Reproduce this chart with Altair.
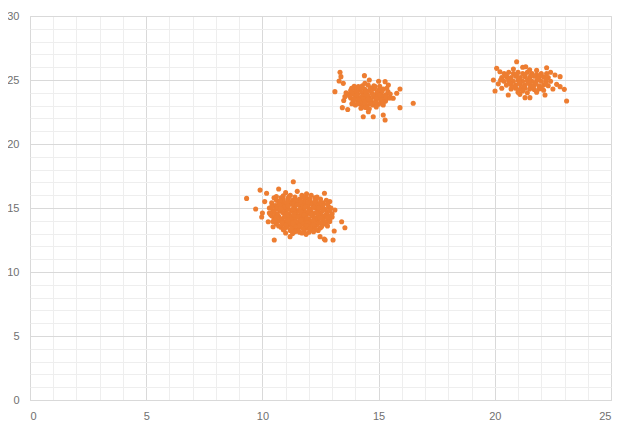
import altair as alt
import pandas as pd

# Cluster points (x, y)
cluster_a = [
    (10.7,16.48),(11.33,17.05),(11.0,16.2),(11.5,16.3),(11.9,16.1),(12.26,15.8),(12.67,16.15),(10.18,16.15),(9.9,16.4),
    (11.2,16.0),(11.7,16.0),(12.1,16.0),(10.9,15.95),
    (10.5,15.8),(10.8,15.8),(11.1,15.75),(11.4,15.85),(11.6,15.7),(11.9,15.8),(12.3,15.6),(12.5,15.7),(9.32,15.75),
    (10.1,15.5),(12.9,15.5),(12.85,15.1),(10.6,15.6),(11.3,15.6),(12.0,15.55),
    (10.4,15.4),(10.7,15.4),(10.9,15.35),(11.2,15.45),(11.5,15.4),(11.8,15.35),(12.1,15.4),(12.4,15.3),(12.6,15.4),
    (10.55,15.2),(11.0,15.2),(11.35,15.2),(11.65,15.15),(11.95,15.2),(12.25,15.15),(12.55,15.1),(9.71,14.92),
    (10.3,15.0),(10.6,14.95),(10.85,15.0),(11.1,15.0),(11.4,14.95),(11.7,15.0),(12.0,14.95),(12.3,15.0),(12.7,14.9),
    (13.12,14.84),(10.0,14.6),(9.97,14.3),
    (10.45,14.8),(10.75,14.75),(11.0,14.8),(11.25,14.8),(11.55,14.75),(11.8,14.8),(12.1,14.75),(12.4,14.8),(12.8,14.7),
    (10.3,14.6),(10.6,14.55),(10.9,14.6),(11.15,14.55),(11.45,14.6),(11.7,14.55),(11.95,14.6),(12.2,14.55),(12.5,14.6),
    (12.75,14.5),(13.0,14.55),
    (10.4,14.4),(10.7,14.35),(11.0,14.4),(11.3,14.35),(11.6,14.4),(11.85,14.35),(12.15,14.4),(12.45,14.35),(12.7,14.3),
    (13.0,14.3),(10.5,14.2),(10.8,14.15),(11.1,14.2),(11.4,14.15),(11.7,14.2),(12.0,14.15),(12.3,14.2),(12.6,14.1),
    (12.9,14.1),(10.25,13.93),
    (10.45,13.95),(10.7,14.0),(11.0,13.95),(11.25,14.0),(11.55,13.95),(11.85,14.0),(12.1,13.95),(12.4,14.0),(12.75,13.9),
    (13.41,13.93),(10.6,13.75),(10.9,13.75),(11.2,13.7),(11.5,13.75),(11.8,13.7),(12.05,13.75),(12.35,13.7),(12.65,13.75),
    (10.46,13.54),(13.55,13.46),
    (10.8,13.5),(11.05,13.5),(11.35,13.45),(11.6,13.5),(11.9,13.45),(12.2,13.5),(12.5,13.45),(13.09,13.2),(10.9,13.3),
    (11.2,13.25),(11.5,13.3),(11.8,13.2),(12.1,13.3),(12.4,13.25),(11.0,13.05),(11.3,13.0),(11.88,12.94),(12.48,12.76),
    (12.66,12.58),(11.19,12.76),(10.51,12.5),(11.6,13.1),(12.0,13.1),
    (11.1,14.9),(11.35,14.7),(11.6,14.9),(11.85,14.65),(12.05,14.85),(11.2,14.3),(11.45,14.45),(11.75,14.25),(11.9,14.5),
    (12.2,14.3),(10.95,15.1),(11.25,15.3),(11.55,15.55),(11.8,15.55),(12.15,15.25),(10.85,14.1),(11.15,13.85),(11.4,13.6),
    (11.7,13.85),(12.0,13.6),(12.3,13.9),(12.55,14.45),(12.45,15.0),(10.65,15.1),(10.55,14.35),(13.04,12.5),(12.7,12.5),
    (10.6,15.9),(10.9,15.65),(11.15,15.9),(11.45,15.6),(11.75,15.85),(12.05,15.7),(12.35,15.85),(12.75,15.6),
    (10.75,15.55),(11.05,15.45),(11.35,15.35),(11.65,15.5),(11.95,15.45),(12.25,15.5),(12.5,15.45),(12.8,15.3),
    (10.4,15.1),(10.75,15.25),(11.1,15.15),(11.5,15.25),(11.85,15.1),(12.2,15.05),(12.6,15.2),(12.95,15.0),
    (10.5,14.7),(10.8,14.9),(11.3,14.9),(11.65,14.7),(12.0,14.7),(12.3,14.65),(12.6,14.8),(12.9,14.8),
    (10.35,14.5),(10.65,14.45),(11.05,14.5),(11.35,14.5),(11.8,14.45),(12.1,14.5),(12.4,14.45),(12.85,14.4),
    (10.6,14.25),(10.95,14.3),(11.25,14.1),(11.55,14.3),(11.9,14.2),(12.25,14.1),(12.5,14.25),(12.8,14.2),
    (10.55,14.05),(10.85,13.85),(11.1,14.05),(11.4,13.9),(11.65,14.05),(11.95,13.85),(12.2,14.0),(12.5,13.85),(12.9,13.95),
    (10.7,13.6),(11.0,13.65),(11.3,13.8),(11.6,13.6),(11.9,13.6),(12.2,13.65),(12.55,13.55),(12.8,13.6),
    (10.95,13.4),(11.25,13.4),(11.55,13.2),(11.75,13.4),(12.05,13.4),(12.3,13.35),(11.4,13.15),(11.7,13.05),(12.2,13.15),
]

cluster_b = [
    (13.8,24.2),(14.0,24.3),(14.2,24.2),(14.4,24.3),(14.6,24.2),(14.8,24.3),(15.0,24.2),(15.2,24.3),(15.4,24.1),
    (13.7,23.9),(13.9,23.95),(14.1,23.9),(14.3,24.0),(14.5,23.9),(14.7,24.0),(14.9,23.9),(15.1,23.95),(15.3,23.85),(15.5,23.9),
    (13.8,23.6),(14.0,23.65),(14.2,23.6),(14.4,23.7),(14.6,23.6),(14.8,23.65),(15.0,23.6),(15.2,23.55),(15.4,23.6),
    (13.9,23.35),(14.1,23.3),(14.3,23.4),(14.5,23.35),(14.7,23.3),(14.9,23.4),(15.1,23.3),(15.3,23.35),
    (14.0,23.05),(14.25,23.1),(14.5,23.0),(14.75,23.05),(15.0,23.1),
    (14.3,24.55),(14.55,24.6),(14.8,24.55),(13.95,24.5),(15.05,24.5),
    (14.45,23.8),(14.65,23.45),(14.85,23.8),(14.15,23.5),(15.15,23.75),(14.35,22.9),(14.6,22.75),(13.6,24.0),(13.5,23.4),
    (13.34,25.6),(13.38,25.26),(13.3,24.92),(13.48,24.74),(14.39,25.34),(13.12,24.09),(15.28,24.87),(15.42,24.61),
    (15.92,24.3),(16.49,23.18),(15.92,22.84),(15.63,23.57),(15.78,23.96),(13.44,22.84),(13.67,22.7),(14.34,22.13),
    (14.56,22.52),(14.77,22.13),(15.2,22.27),(15.28,21.88),(15.2,23.05),(14.24,22.79),(13.55,23.7),(13.84,24.35),
    (14.13,24.48),(14.85,24.48),(14.41,24.74),(14.6,25.0),(15.0,24.9),
    (13.85,24.05),(14.05,24.1),(14.25,24.35),(14.45,24.1),(14.65,24.4),(14.95,24.05),(15.15,24.15),(15.35,24.35),
    (13.75,23.75),(14.05,23.8),(14.3,23.75),(14.55,23.75),(14.75,23.85),(15.05,23.8),(15.3,23.7),(15.5,23.6),
    (13.95,23.5),(14.35,23.55),(14.55,23.5),(14.9,23.55),(15.15,23.45),(14.2,23.2),(14.4,23.25),(14.65,23.15),
    (14.85,23.2),(15.2,23.25),(14.1,23.15),(13.85,23.15),(14.45,22.85),(14.9,22.9),
]

cluster_c = [
    (20.94,26.43),(21.33,26.04),(22.23,25.96),(20.08,25.91),(20.22,25.65),(19.94,25.0),(20.01,24.14),(20.3,24.35),
    (20.58,23.83),(21.08,23.88),(21.3,23.62),(21.51,23.62),(22.16,23.83),(22.81,25.26),(22.66,24.66),(22.81,24.48),
    (22.99,24.27),(23.09,23.36),(22.59,25.39),(22.23,25.5),
    (20.4,25.5),(20.6,25.6),(20.8,25.5),(21.0,25.6),(21.2,25.5),(21.4,25.6),(21.6,25.5),(21.8,25.4),(22.0,25.5),
    (20.3,25.2),(20.5,25.25),(20.7,25.2),(20.9,25.3),(21.1,25.2),(21.3,25.25),(21.5,25.2),(21.7,25.3),(21.9,25.2),
    (22.1,25.25),(22.3,25.2),
    (20.4,24.9),(20.6,24.95),(20.8,24.9),(21.0,25.0),(21.2,24.9),(21.4,24.95),(21.6,24.9),(21.8,24.95),(22.0,24.9),
    (22.2,24.85),(22.4,24.9),
    (20.5,24.6),(20.7,24.65),(20.9,24.6),(21.1,24.65),(21.3,24.6),(21.5,24.65),(21.7,24.6),(21.9,24.55),(22.1,24.6),
    (22.3,24.55),
    (20.7,24.3),(20.9,24.35),(21.1,24.3),(21.3,24.35),(21.5,24.3),(21.7,24.25),(21.9,24.3),(22.1,24.2),
    (21.0,24.05),(21.4,24.0),(21.8,24.05),(20.8,25.85),(21.5,25.8),(21.8,25.75),(22.4,25.6),(20.15,24.7),(20.25,25.0),
    (22.5,24.3),(21.2,26.0),
    (20.5,25.4),(20.95,25.45),(21.3,25.4),(21.55,25.35),(21.95,25.35),(20.6,25.05),(21.05,25.1),(21.5,25.05),
    (21.85,25.1),(22.2,25.05),(20.65,24.75),(21.05,24.8),(21.45,24.8),(21.75,24.75),(22.2,24.7),(20.85,24.45),
    (21.25,24.45),(21.65,24.45),(22.0,24.4),(21.2,24.15),
]

x_ticks = list(range(0, 26))
y_ticks = list(range(0, 31))

pts = cluster_a + cluster_b + cluster_c
df = pd.DataFrame({"x": [p[0] for p in pts], "y": [p[1] for p in pts]})

grid_color = {"condition": {"test": "datum.value % 5 === 0", "value": "#d9d9d9"}, "value": "#eeeeee"}
label_expr = "datum.value % 5 === 0 ? datum.label : ''"

chart = alt.Chart(df).mark_circle(size=26, opacity=1, color="#ED7D31").encode(
    x=alt.X("x:Q", scale=alt.Scale(domain=[0, 25], nice=False, zero=False),
            axis=alt.Axis(values=x_ticks, title=None, ticks=False, domain=True, domainColor="#d9d9d9",
                          gridColor=grid_color, labelExpr=label_expr, labelColor="#707070",
                          labelFont="Liberation Sans", labelFontSize=11, labelPadding=10)),
    y=alt.Y("y:Q", scale=alt.Scale(domain=[0, 30], nice=False, zero=False),
            axis=alt.Axis(values=y_ticks, title=None, ticks=False, domain=False,
                          gridColor=grid_color, labelExpr=label_expr, labelColor="#707070",
                          labelFont="Liberation Sans", labelFontSize=11, labelPadding=11)),
).properties(
    width=581, height=384,
    autosize=alt.AutoSizeParams(type="none"),
    padding={"left": 22, "top": 8, "right": 10, "bottom": 30},
).configure_view(stroke=None).configure(background="white")

chart.save("out.html", embed_options={"renderer": "svg", "actions": False})
